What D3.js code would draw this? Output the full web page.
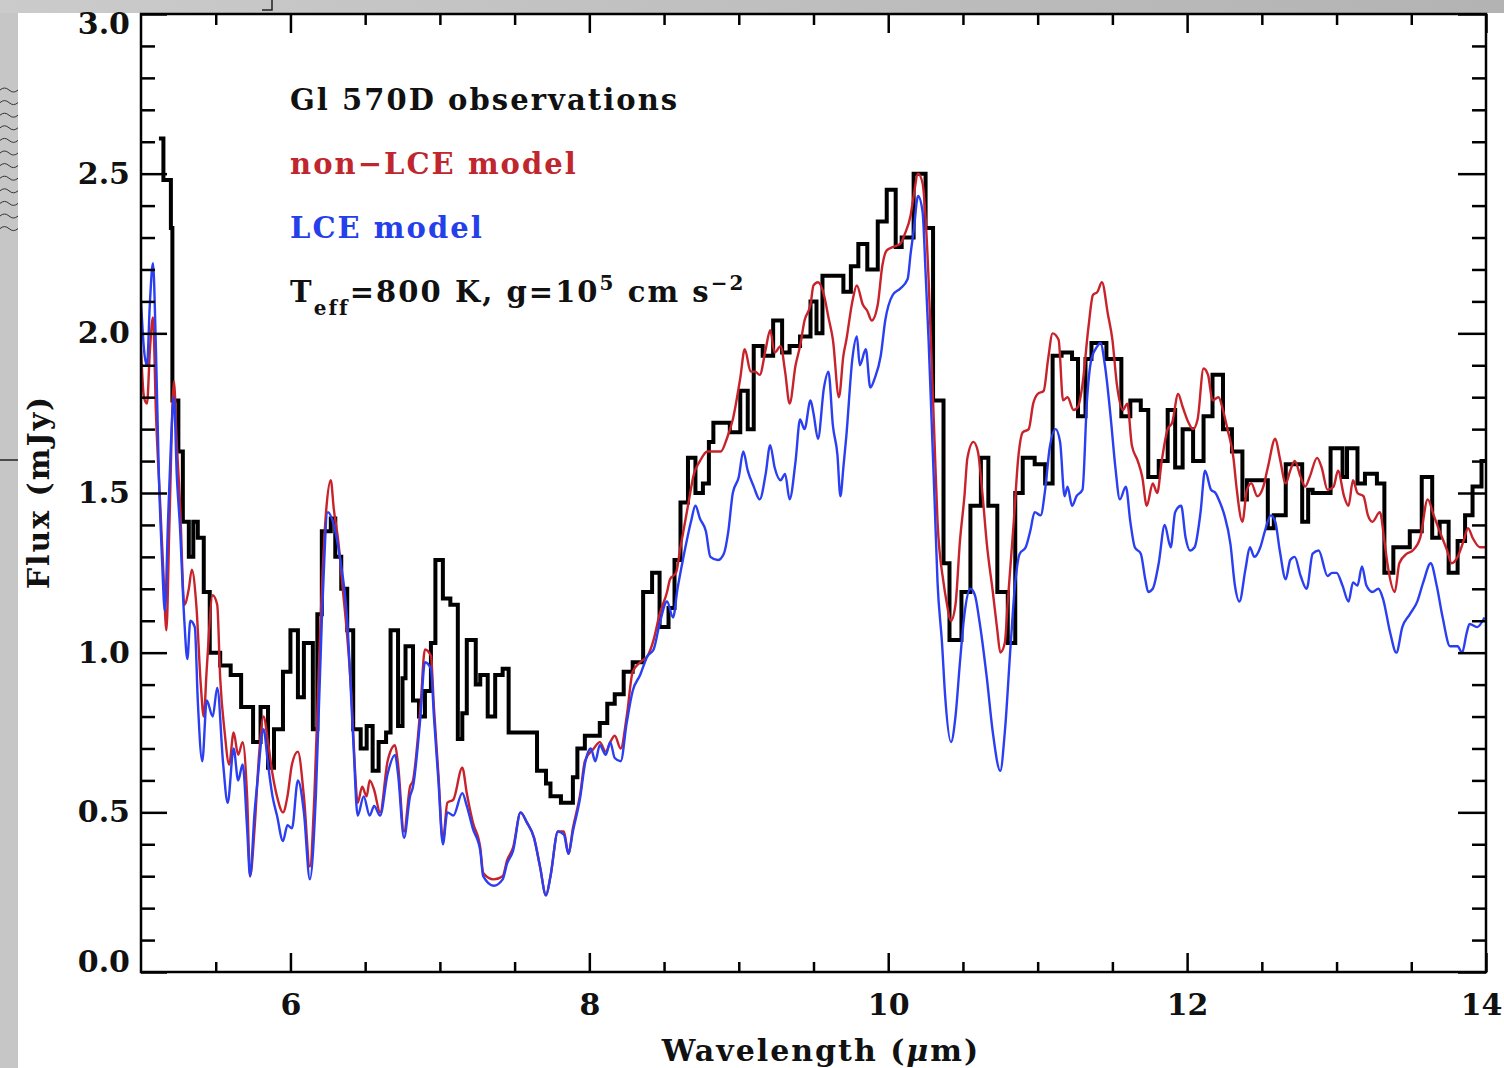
<!DOCTYPE html>
<html><head><meta charset="utf-8">
<script src="https://cdn.jsdelivr.net/npm/d3@7"></script>
<style>
html,body{margin:0;padding:0;background:#fff;}
svg{display:block;}
text{font-family:"DejaVu Serif",serif;font-weight:bold;}
</style></head><body>
<svg id="chart" width="1504" height="1068"></svg>
<script>
// ---------------- data (wavelength in micron, flux in mJy) ----------------
const obsWave = [5.12,5.15,5.20,5.21,5.25,5.28,5.32,5.35,5.38,5.42,5.46,5.53,5.60,5.67,5.75,5.80,5.85,5.89,5.95,6.00,
6.05,6.09,6.15,6.18,6.21,6.27,6.30,6.34,6.38,6.42,6.47,6.51,6.55,6.59,6.64,6.67,6.72,6.75,6.77,6.82,
6.86,6.90,6.94,6.97,7.02,7.07,7.12,7.15,7.18,7.24,7.27,7.32,7.37,7.42,7.46,7.65,7.71,7.74,7.81,7.89,
7.92,7.97,8.07,8.12,8.17,8.23,8.29,8.36,8.42,8.47,8.53,8.57,8.61,8.66,8.71,8.76,8.80,8.83,8.94,9.01,
9.06,9.10,9.16,9.23,9.29,9.34,9.41,9.48,9.52,9.56,9.70,9.75,9.80,9.86,9.93,9.99,10.05,10.09,10.17,10.25,
10.30,10.37,10.41,10.49,10.55,10.62,10.67,10.73,10.80,10.85,10.90,10.98,11.05,11.10,11.16,11.23,11.27,11.32,11.36,11.46,
11.56,11.62,11.69,11.74,11.81,11.87,11.92,11.97,12.04,12.11,12.17,12.24,12.30,12.37,12.40,12.54,12.58,12.66,12.77,12.81,
12.84,12.96,13.04,13.07,13.14,13.19,13.27,13.32,13.38,13.49,13.57,13.64,13.69,13.75,13.81,13.86,13.91,13.97,14.00];
const obsFlux = [2.61,2.48,2.33,1.79,1.63,1.41,1.30,1.41,1.36,1.19,1.00,0.96,0.93,0.83,0.72,0.83,0.64,0.76,0.94,1.07,
0.86,1.03,0.76,1.12,1.38,1.42,1.30,1.20,1.07,0.76,0.70,0.77,0.63,0.72,0.75,1.07,0.77,0.92,1.02,0.85,
0.80,0.88,1.03,1.29,1.17,1.15,0.73,0.81,1.04,0.90,0.93,0.80,0.93,0.95,0.75,0.63,0.59,0.55,0.53,0.61,
0.70,0.74,0.78,0.84,0.87,0.94,0.97,1.19,1.25,1.08,1.14,1.29,1.47,1.61,1.50,1.53,1.66,1.72,1.69,1.82,
1.70,1.96,1.93,2.04,1.94,1.96,1.99,2.10,2.00,2.18,2.13,2.21,2.28,2.20,2.35,2.45,2.27,2.30,2.50,2.33,
1.79,1.28,1.04,1.19,1.46,1.61,1.46,1.19,1.03,1.50,1.61,1.59,1.53,1.93,1.94,1.92,1.74,1.92,1.97,1.92,
1.74,1.79,1.76,1.55,1.60,1.76,1.58,1.70,1.60,1.74,1.87,1.70,1.63,1.48,1.54,1.39,1.43,1.59,1.41,1.51,
1.50,1.64,1.55,1.64,1.53,1.56,1.53,1.25,1.33,1.38,1.55,1.36,1.41,1.25,1.35,1.43,1.52,1.60,1.60];

const nonLceWave = [5.00,5.02,5.04,5.06,5.08,5.10,5.13,5.15,5.17,5.19,5.22,5.24,5.26,5.29,5.32,5.34,5.37,5.40,5.42,5.44,
5.48,5.51,5.53,5.56,5.59,5.62,5.65,5.68,5.71,5.73,5.76,5.79,5.82,5.85,5.88,5.91,5.95,5.98,6.01,6.05,
6.09,6.13,6.16,6.19,6.21,6.24,6.27,6.29,6.32,6.35,6.38,6.41,6.43,6.45,6.48,6.51,6.53,6.56,6.60,6.65,
6.70,6.72,6.76,6.80,6.82,6.87,6.90,6.94,6.96,6.99,7.02,7.05,7.09,7.15,7.18,7.22,7.27,7.29,7.36,7.42,
7.45,7.49,7.54,7.58,7.63,7.67,7.71,7.74,7.79,7.83,7.86,7.89,7.94,7.97,8.03,8.07,8.11,8.14,8.17,8.21,
8.25,8.29,8.34,8.39,8.43,8.47,8.52,8.54,8.58,8.61,8.66,8.70,8.74,8.79,8.83,8.88,8.92,8.96,9.01,9.04,
9.08,9.11,9.14,9.18,9.21,9.24,9.28,9.31,9.34,9.38,9.41,9.44,9.48,9.50,9.53,9.57,9.60,9.63,9.67,9.70,
9.72,9.76,9.79,9.83,9.86,9.89,9.93,9.96,9.99,10.03,10.08,10.11,10.15,10.17,10.20,10.23,10.25,10.27,10.29,10.31,
10.33,10.37,10.39,10.42,10.45,10.48,10.51,10.53,10.57,10.60,10.63,10.66,10.70,10.73,10.75,10.78,10.80,10.84,10.87,10.90,
10.94,10.97,11.00,11.04,11.07,11.10,11.14,11.17,11.20,11.24,11.27,11.30,11.34,11.37,11.40,11.43,11.47,11.50,11.53,11.57,
11.60,11.63,11.67,11.70,11.73,11.77,11.80,11.83,11.87,11.90,11.94,11.97,12.01,12.04,12.07,12.11,12.14,12.17,12.21,12.24,
12.27,12.31,12.33,12.37,12.40,12.43,12.47,12.51,12.54,12.59,12.62,12.66,12.69,12.72,12.76,12.79,12.82,12.87,12.90,12.94,
12.98,13.01,13.05,13.08,13.11,13.14,13.18,13.21,13.24,13.29,13.32,13.34,13.39,13.42,13.47,13.51,13.56,13.61,13.65,13.69,
13.74,13.77,13.81,13.85,13.88,13.91,13.96,14.00];
const nonLceFlux = [1.95,1.80,1.78,1.95,2.05,1.75,1.45,1.25,1.07,1.40,1.85,1.65,1.48,1.15,1.20,1.26,1.15,0.90,0.80,0.95,
1.18,1.15,0.92,0.75,0.65,0.75,0.68,0.72,0.55,0.30,0.45,0.68,0.80,0.72,0.62,0.55,0.50,0.55,0.65,0.69,
0.55,0.33,0.55,0.95,1.20,1.45,1.54,1.45,1.35,1.20,1.05,0.85,0.65,0.53,0.58,0.55,0.60,0.57,0.50,0.66,
0.71,0.65,0.44,0.58,0.60,0.83,1.01,0.99,0.83,0.62,0.41,0.53,0.54,0.64,0.56,0.47,0.39,0.31,0.29,0.30,
0.35,0.39,0.50,0.47,0.42,0.33,0.24,0.30,0.44,0.44,0.37,0.45,0.56,0.66,0.70,0.72,0.69,0.72,0.74,0.70,
0.80,0.94,0.97,0.99,1.04,1.12,1.19,1.23,1.25,1.33,1.46,1.56,1.60,1.63,1.63,1.63,1.67,1.73,1.86,1.95,
1.88,1.88,1.87,1.95,2.01,1.94,1.96,1.88,1.78,1.90,1.96,2.04,2.09,2.15,2.16,2.12,2.05,1.98,1.80,1.93,
1.98,2.10,2.15,2.09,2.07,2.04,2.09,2.21,2.26,2.27,2.28,2.31,2.37,2.43,2.50,2.47,2.36,2.17,1.92,1.66,
1.41,1.22,1.16,1.10,1.15,1.35,1.49,1.61,1.66,1.63,1.50,1.34,1.19,1.07,1.00,1.03,1.16,1.41,1.61,1.69,
1.70,1.78,1.81,1.82,1.92,2.00,1.98,1.79,1.80,1.76,1.77,1.84,2.02,2.12,2.13,2.16,2.06,1.98,1.84,1.76,
1.78,1.65,1.60,1.55,1.46,1.53,1.50,1.60,1.70,1.72,1.81,1.77,1.72,1.70,1.73,1.89,1.87,1.79,1.80,1.76,
1.70,1.61,1.52,1.41,1.51,1.53,1.49,1.52,1.58,1.67,1.61,1.53,1.57,1.60,1.55,1.52,1.55,1.61,1.58,1.51,
1.52,1.57,1.49,1.46,1.54,1.50,1.49,1.43,1.41,1.44,1.35,1.28,1.19,1.28,1.31,1.32,1.36,1.48,1.43,1.38,
1.32,1.28,1.30,1.35,1.39,1.36,1.33,1.33];

const lceWave = [5.00,5.02,5.04,5.06,5.08,5.10,5.12,5.14,5.16,5.18,5.20,5.22,5.24,5.26,5.29,5.31,5.33,5.36,5.38,5.41,
5.44,5.48,5.51,5.55,5.58,5.62,5.65,5.68,5.71,5.73,5.76,5.78,5.82,5.85,5.88,5.91,5.95,5.98,6.01,6.05,
6.09,6.13,6.17,6.21,6.25,6.29,6.33,6.38,6.42,6.45,6.49,6.53,6.56,6.60,6.65,6.70,6.72,6.76,6.80,6.82,
6.87,6.90,6.94,6.96,6.99,7.02,7.05,7.09,7.15,7.18,7.22,7.27,7.29,7.36,7.42,7.45,7.49,7.54,7.58,7.63,
7.67,7.71,7.74,7.79,7.83,7.86,7.89,7.94,7.97,8.01,8.04,8.07,8.11,8.14,8.17,8.21,8.25,8.29,8.34,8.39,
8.43,8.47,8.52,8.56,8.59,8.63,8.68,8.71,8.74,8.78,8.81,8.86,8.90,8.93,8.96,9.00,9.03,9.06,9.10,9.14,
9.18,9.21,9.24,9.28,9.31,9.34,9.38,9.41,9.44,9.48,9.50,9.53,9.57,9.60,9.63,9.66,9.68,9.70,9.72,9.76,
9.79,9.81,9.85,9.88,9.91,9.95,9.98,10.03,10.08,10.13,10.15,10.17,10.20,10.23,10.25,10.27,10.29,10.31,10.33,10.36,
10.38,10.42,10.45,10.48,10.51,10.55,10.58,10.61,10.66,10.70,10.75,10.78,10.82,10.85,10.88,10.92,10.95,10.98,11.02,11.05,
11.08,11.12,11.15,11.18,11.20,11.23,11.26,11.30,11.33,11.36,11.40,11.42,11.45,11.49,11.52,11.55,11.59,11.62,11.65,11.69,
11.72,11.74,11.77,11.81,11.85,11.89,11.92,11.96,11.99,12.02,12.05,12.09,12.12,12.16,12.19,12.22,12.25,12.29,12.32,12.35,
12.39,12.42,12.45,12.49,12.52,12.56,12.59,12.62,12.66,12.69,12.72,12.76,12.80,12.84,12.88,12.94,12.97,13.00,13.04,13.08,
13.11,13.14,13.17,13.20,13.24,13.28,13.31,13.36,13.40,13.44,13.49,13.54,13.58,13.63,13.67,13.71,13.76,13.81,13.84,13.87,
13.89,13.94,13.99];
const lceFlux = [2.10,1.95,1.90,2.10,2.22,1.95,1.55,1.30,1.13,1.40,1.65,1.80,1.55,1.40,1.10,0.98,1.10,1.08,0.85,0.66,
0.85,0.80,0.89,0.65,0.53,0.70,0.60,0.65,0.45,0.30,0.50,0.60,0.76,0.65,0.55,0.49,0.41,0.46,0.45,0.60,
0.50,0.29,0.55,1.10,1.44,1.40,1.30,1.10,0.73,0.49,0.55,0.49,0.52,0.49,0.62,0.68,0.62,0.42,0.55,0.58,
0.80,0.97,0.95,0.80,0.60,0.40,0.50,0.49,0.56,0.52,0.45,0.38,0.30,0.27,0.29,0.34,0.38,0.50,0.47,0.42,
0.33,0.24,0.30,0.44,0.43,0.37,0.44,0.55,0.65,0.70,0.66,0.71,0.68,0.72,0.67,0.66,0.78,0.88,0.93,0.99,
1.01,1.09,1.16,1.11,1.20,1.30,1.41,1.46,1.42,1.38,1.30,1.29,1.31,1.38,1.50,1.55,1.63,1.57,1.52,1.48,
1.56,1.65,1.58,1.54,1.56,1.48,1.60,1.73,1.70,1.79,1.75,1.67,1.83,1.88,1.71,1.62,1.49,1.58,1.68,1.92,
1.99,1.90,1.95,1.83,1.86,1.93,2.04,2.12,2.14,2.17,2.25,2.32,2.43,2.38,2.19,1.98,1.73,1.48,1.22,1.03,
0.87,0.72,0.80,0.97,1.12,1.20,1.18,1.10,0.92,0.75,0.63,0.75,1.03,1.22,1.31,1.33,1.38,1.44,1.43,1.51,
1.64,1.70,1.66,1.49,1.52,1.46,1.49,1.51,1.79,1.92,1.96,1.97,1.90,1.73,1.58,1.48,1.52,1.41,1.33,1.31,
1.23,1.19,1.20,1.28,1.40,1.33,1.44,1.46,1.36,1.32,1.33,1.44,1.57,1.51,1.50,1.47,1.43,1.34,1.21,1.16,
1.26,1.33,1.30,1.33,1.38,1.43,1.41,1.32,1.23,1.29,1.30,1.24,1.20,1.31,1.32,1.24,1.25,1.25,1.21,1.16,
1.22,1.21,1.27,1.21,1.19,1.20,1.17,1.06,1.00,1.08,1.12,1.16,1.22,1.28,1.21,1.11,1.02,1.02,1.00,1.06,
1.09,1.08,1.11];

const xMajorTicks = [6, 8, 10, 12, 14];
const xMinorTicks = [5.5, 6.5, 7, 7.5, 8.5, 9, 9.5, 10.5, 11, 11.5, 12.5, 13, 13.5];
const yMajorTicks = [0.0, 0.5, 1.0, 1.5, 2.0, 2.5, 3.0];
const yMinorTicks = [0.1,0.2,0.3,0.4,0.6,0.7,0.8,0.9,1.1,1.2,1.3,1.4,1.6,1.7,1.8,1.9,2.1,2.2,2.3,2.4,2.6,2.7,2.8,2.9];

// ---------------- drawing ----------------
const W = 1504, H = 1068;
const L = 141, R = 1486, T = 14, B = 972;
const svg = d3.select("#chart");
const defs = svg.append("defs");
const tg = defs.append("linearGradient").attr("id","topgrad").attr("x1","0").attr("x2","1").attr("y1","0").attr("y2","0");
tg.append("stop").attr("offset","0").attr("stop-color","#cbcbcb");
tg.append("stop").attr("offset","1").attr("stop-color","#b3b3b3");
defs.append("clipPath").attr("id","plotclip").append("rect")
  .attr("x",L).attr("y",T).attr("width",R-L).attr("height",B-T);

// page background
svg.append("rect").attr("width",W).attr("height",H).attr("fill","#c6c6c6");
svg.append("rect").attr("width",W).attr("height",13).attr("fill","url(#topgrad)");
svg.append("rect").attr("x",18).attr("y",13).attr("width",W-18).attr("height",H-13).attr("fill","#fff");
// small decorations in the gray margin
const deco = svg.append("g").attr("fill","none").attr("stroke","#333").attr("stroke-width",1);
d3.range(12).forEach(i => {
  const yy = 90 + i*12.6;
  deco.append("path").attr("d",`M0,${yy} q4.5,-4 9,0 t9,0`);
});
svg.append("line").attr("x1",0).attr("x2",18).attr("y1",460).attr("y2",460).attr("stroke","#222").attr("stroke-width",1.5);
svg.append("path").attr("d","M262,10 H272 V0").attr("fill","none").attr("stroke","#222").attr("stroke-width",1.5);

const x = d3.scaleLinear().domain([5,14]).range([L,R]);
const y = d3.scaleLinear().domain([0,3]).range([B,T]);

const plot = svg.append("g").attr("clip-path","url(#plotclip)");
const zip = (a,b) => a.map((v,i)=>[v,b[i]]);
const line = d3.line().x(d=>x(d[0])).y(d=>y(d[1])).curve(d3.curveMonotoneX);
const stepLine = d3.line().x(d=>x(d[0])).y(d=>y(d[1])).curve(d3.curveStepAfter);

plot.append("path").datum(zip(obsWave,obsFlux)).attr("d",stepLine)
  .attr("fill","none").attr("stroke","#000").attr("stroke-width",4).attr("stroke-linejoin","miter");
plot.append("path").datum(zip(nonLceWave,nonLceFlux)).attr("d",line)
  .attr("fill","none").attr("stroke","#c8232b").attr("stroke-width",2.4).attr("stroke-linejoin","round");
plot.append("path").datum(zip(lceWave,lceFlux)).attr("d",line)
  .attr("fill","none").attr("stroke","#2a3ef2").attr("stroke-width",2.4).attr("stroke-linejoin","round");

// axes
function styleAxis(g){
  g.select(".domain").remove();
  g.selectAll(".tick line").attr("stroke","#000").attr("stroke-width",2.5);
  g.selectAll(".tick text").attr("fill","#111").style("font-size","30px")
    .style("font-family","'DejaVu Serif',serif").style("font-weight","bold");
}
svg.append("g").attr("transform",`translate(0,${B})`)
  .call(d3.axisBottom(x).tickValues(xMinorTicks).tickSize(-10).tickFormat("")).call(styleAxis);
const xAx = svg.append("g").attr("transform",`translate(0,${B})`)
  .call(d3.axisBottom(x).tickValues(xMajorTicks).tickSize(-19).tickPadding(22).tickFormat(d3.format("d"))).call(styleAxis);
xAx.selectAll(".tick text").filter(d => d === 14).attr("text-anchor","end").attr("x",16);
svg.append("g").attr("transform",`translate(0,${T})`)
  .call(d3.axisTop(x).tickValues(xMinorTicks).tickSize(-11).tickFormat("")).call(styleAxis);
svg.append("g").attr("transform",`translate(0,${T})`)
  .call(d3.axisTop(x).tickValues(xMajorTicks).tickSize(-19).tickFormat("")).call(styleAxis);
svg.append("g").attr("transform",`translate(${L},0)`)
  .call(d3.axisLeft(y).tickValues(yMinorTicks).tickSize(-14).tickFormat("")).call(styleAxis);
const yAx = svg.append("g").attr("transform",`translate(${L},0)`)
  .call(d3.axisLeft(y).tickValues(yMajorTicks).tickSize(-26).tickPadding(11).tickFormat(d3.format(".1f"))).call(styleAxis);
yAx.selectAll(".tick text").attr("y", d => d === 3 ? 10 : (d === 0 ? -10 : 0));
svg.append("g").attr("transform",`translate(${R},0)`)
  .call(d3.axisRight(y).tickValues(yMinorTicks).tickSize(-14).tickFormat("")).call(styleAxis);
svg.append("g").attr("transform",`translate(${R},0)`)
  .call(d3.axisRight(y).tickValues(yMajorTicks).tickSize(-28).tickFormat("")).call(styleAxis);

// frame
svg.append("rect").attr("x",L).attr("y",T).attr("width",R-L).attr("height",B-T)
  .attr("fill","none").attr("stroke","#000").attr("stroke-width",2.5);

// axis titles
const xt = svg.append("text").attr("x",821).attr("y",1061).attr("text-anchor","middle")
  .style("font-size","30px").attr("fill","#111").style("letter-spacing","2px");
xt.append("tspan").text("Wavelength (");
xt.append("tspan").style("font-style","italic").text("μ");
xt.append("tspan").text("m)");
svg.append("text").attr("transform","translate(49,492) rotate(-90)").attr("text-anchor","middle")
  .style("font-size","30px").attr("fill","#111").style("letter-spacing","2px").text("Flux (mJy)");

// annotations
const ann = svg.append("g").style("font-size","29px").style("letter-spacing","2.05px");
ann.append("text").attr("x",290).attr("y",110).attr("fill","#111").text("Gl 570D observations");
ann.append("text").attr("x",290).attr("y",174).attr("fill","#c0262d").text("non\u2212LCE model");
ann.append("text").attr("x",290).attr("y",238).attr("fill","#2540ea").text("LCE model");
const tl = ann.append("text").attr("x",290).attr("y",302).attr("fill","#111");
tl.append("tspan").text("T");
tl.append("tspan").attr("dy",13).style("font-size","20px").text("eff");
tl.append("tspan").attr("dy",-13).text("=800 K, g=10");
tl.append("tspan").attr("dy",-12).style("font-size","20px").text("5");
tl.append("tspan").attr("dy",12).text(" cm s");
tl.append("tspan").attr("dy",-12).style("font-size","20px").text("\u22122");
</script>
</body></html>
